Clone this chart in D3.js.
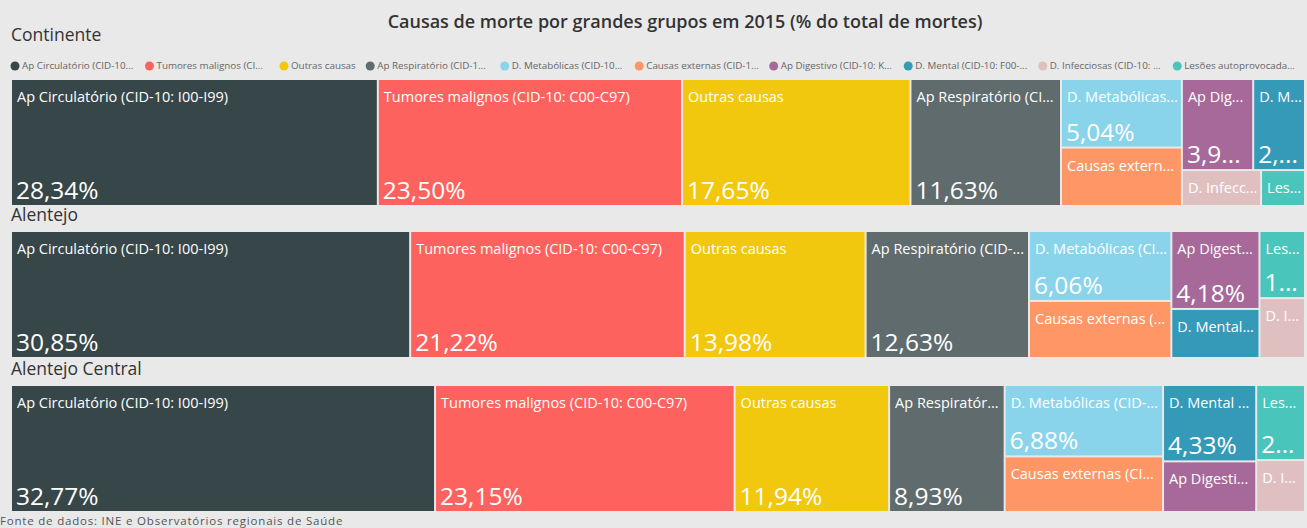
<!DOCTYPE html>
<html>
<head>
<meta charset="utf-8">
<script src="https://cdn.jsdelivr.net/npm/d3@7"></script>
<style>
  body { margin: 0; background: #e9e9ea; }
  svg { display: block; font-family: "Open Sans", sans-serif; }
</style>
</head>
<body>
<div class="canvas"></div>
<script>
// data
const title = "Causas de morte por grandes grupos em 2015 (% do total de mortes)";
const source = "Fonte de dados: INE e Observatórios regionais de Saúde";
const regions = ["Continente", "Alentejo", "Alentejo Central"];
const causes = [
  "Ap Circulatório (CID-10: I00-I99)",
  "Tumores malignos (CID-10: C00-C97)",
  "Outras causas",
  "Ap Respiratório (CID-10: J00-J99)",
  "D. Metabólicas (CID-10: E00-E90)",
  "Causas externas (CID-10: V01-Y89)",
  "Ap Digestivo (CID-10: K00-K93)",
  "D. Mental (CID-10: F00-F99)",
  "D. Infecciosas (CID-10: A00-B99)",
  "Lesões autoprovocadas intencionalmente (CID-10: X60-X84)"
];
const continente = [28.34, 23.50, 17.65, 11.63, 5.04, 4.30, 3.95, 2.87, 1.73, 0.96];
const alentejo = [30.85, 21.22, 13.98, 12.63, 6.06, 4.94, 4.18, 2.63, 1.66, 1.86];
const alentejoCentral = [32.77, 23.15, 11.94, 8.93, 6.88, 5.36, 2.87, 4.33, 1.54, 2.23];
const regionValues = [continente, alentejo, alentejoCentral];
const colors = ["#374649", "#fd625e", "#f2c80f", "#5f6b6d", "#8ad4eb",
                "#fe9666", "#a66999", "#3599b8", "#dfbfbf", "#4ac5bb"];

// dimensions
const w = 1307;
const h = 528;
const left = 12;
const right = 1304;
const panels = [
  { top: 80, bottom: 205, labelY: 41 },
  { top: 232, bottom: 357, labelY: 221 },
  { top: 386, bottom: 511, labelY: 375 }
];

const pct = d3.formatLocale({ decimal: ",", thousands: ".", grouping: [3], currency: ["", "€"] }).format(".2f");
const color = d3.scaleOrdinal().domain(causes).range(colors);

const svg = d3.select(".canvas").append("svg").attr("width", w).attr("height", h);
svg.append("rect").attr("width", w).attr("height", h).attr("fill", "#e9e9ea");

// shorten a text node with "..." until it fits
function fit(sel, str, maxW) {
  sel.text(str);
  if (sel.node().getComputedTextLength() <= maxW) return true;
  let s = str;
  while (s.length > 0) {
    s = s.slice(0, -1);
    sel.text(s + "...");
    if (sel.node().getComputedTextLength() <= maxW) return false;
  }
  sel.text("");
  return false;
}

// title
svg.append("text")
  .attr("x", 685)
  .attr("y", 28)
  .attr("text-anchor", "middle")
  .attr("font-size", 18)
  .attr("font-weight", 600)
  .attr("fill", "#333")
  .text(title);

// legend
const legendMax = 113;
const legend = svg.append("g").attr("transform", "translate(10, 66)");
let lx = 0;
causes.forEach((c) => {
  const item = legend.append("g").attr("transform", `translate(${lx}, 0)`);
  item.append("circle").attr("cx", 5).attr("cy", 0).attr("r", 4.5).attr("fill", color(c));
  const t = item.append("text")
    .attr("x", 12)
    .attr("y", 0)
    .attr("dy", "0.35em")
    .attr("font-size", 9.8)
    .attr("fill", "#666");
  const whole = fit(t, c, legendMax);
  lx += 12 + (whole ? t.node().getComputedTextLength() : legendMax) + 9.5;
});

// one treemap per region
regions.forEach((region, i) => {
  const p = panels[i];
  svg.append("text")
    .attr("x", 11)
    .attr("y", p.labelY)
    .attr("font-size", 17.5)
    .attr("fill", "#333")
    .text(region);

  const root = d3.hierarchy({ children: causes.map((c, j) => ({ name: c, value: regionValues[i][j] })) })
    .sum((d) => d.value)
    .sort((a, b) => b.value - a.value);

  d3.treemap()
    .size([right - left, p.bottom - p.top])
    .paddingInner(2)
    .tile(d3.treemapSquarify)(root);

  const g = svg.append("g").attr("transform", `translate(${left}, ${p.top})`);
  const cell = g.selectAll("g")
    .data(root.leaves())
    .enter()
    .append("g")
    .attr("transform", (d) => `translate(${d.x0}, ${d.y0})`);

  cell.append("rect")
    .attr("width", (d) => d.x1 - d.x0)
    .attr("height", (d) => d.y1 - d.y0)
    .attr("fill", (d) => color(d.data.name));

  cell.each(function (d) {
    const cw = d.x1 - d.x0;
    const ch = d.y1 - d.y0;
    const name = d3.select(this).append("text")
      .attr("x", 5)
      .attr("y", 22)
      .attr("font-size", 14.5)
      .attr("fill", "#fff");
    fit(name, d.data.name, cw - 7);
    if (ch >= 62) {
      const val = d3.select(this).append("text")
        .attr("x", 4)
        .attr("y", ch - 6)
        .attr("font-size", 24.5)
        .attr("fill", "#fff");
      fit(val, pct(d.value) + "%", cw - 8);
    }
  });
});

// source note
svg.append("text")
  .attr("x", 0)
  .attr("y", 525)
  .attr("font-size", 11.5)
  .attr("letter-spacing", 0.8)
  .attr("fill", "#555")
  .text(source);
</script>
</body>
</html>
